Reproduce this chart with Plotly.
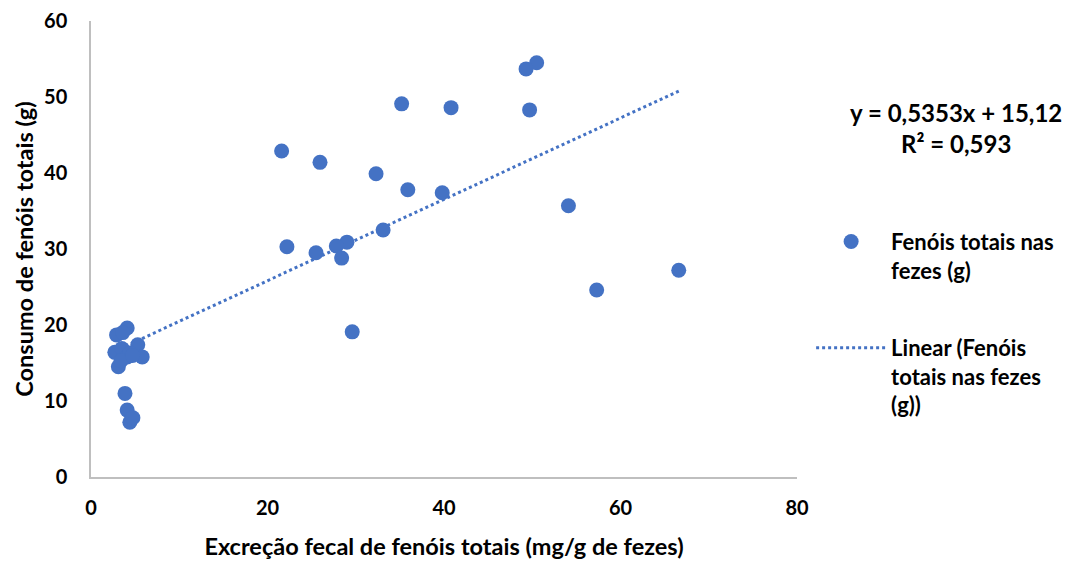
import plotly.graph_objects as go
import numpy as np

# Data
excrecao_x = [50.5, 49.3, 35.2, 40.8, 49.7, 21.6, 25.95, 32.3, 35.9, 39.8,
              54.1, 33.1, 29.0, 27.8, 22.2, 25.5, 28.4, 66.6, 57.3, 29.6,
              2.9, 4.1, 3.6,
              2.7, 3.5, 4.1, 5.3, 5.8, 4.4, 3.1, 3.4, 4.7,
              3.85, 4.1, 4.4, 4.75]
consumo_y = [54.5, 53.7, 49.1, 48.6, 48.3, 42.9, 41.4, 39.9, 37.8, 37.4,
             35.7, 32.5, 30.9, 30.4, 30.3, 29.5, 28.8, 27.2, 24.6, 19.1,
             18.7, 19.6, 19.0,
             16.4, 16.9, 15.8, 17.4, 15.8, 16.3, 14.5, 15.3, 16.0,
             11.0, 8.8, 7.2, 7.8]

slope = 0.5353
intercept = 15.12
r2 = 0.593

series_name = "Fenóis totais nas<br>fezes (g)"
trend_name = "Linear (Fenóis<br>totais nas fezes<br>(g))"
x_title = "Excreção fecal de fenóis totais (mg/g de fezes)"
y_title = "Consumo de fenóis totais (g)"

color = "#4472C4"
font_family = "Lato, Carlito, Calibri, sans-serif"

tx = np.array([min(excrecao_x), max(excrecao_x)])
ty = slope * tx + intercept

def fmt(v):
    return str(v).replace(".", ",")

fig = go.Figure()
fig.add_trace(go.Scatter(
    x=tx, y=ty, mode="lines", name=trend_name,
    line=dict(color=color, width=3, dash="dot"),
    legendgroup="b", legendrank=2))
fig.add_trace(go.Scatter(
    x=excrecao_x, y=consumo_y, mode="markers", name=series_name,
    marker=dict(color=color, size=15, line=dict(width=0)),
    legendgroup="a", legendrank=1))

# page body has an 8px default margin, so the figure is 8px smaller
fig.update_layout(
    width=1062, height=555,
    margin=dict(l=83, r=273, t=13, b=86, autoexpand=False),
    paper_bgcolor="white", plot_bgcolor="white",
    font=dict(family=font_family, size=20, color="black", weight="bold"),
    showlegend=True,
    legend=dict(x=1.02, y=0.562, xanchor="left", yanchor="top",
                traceorder="grouped", tracegroupgap=46, valign="top",
                font=dict(size=22, weight="bold"), itemwidth=70,
                bgcolor="rgba(0,0,0,0)"),
    xaxis=dict(range=[0, 80], dtick=20, showgrid=False, zeroline=False,
               showline=True, linecolor="#BFBFBF", linewidth=1.5,
               automargin=False,
               ticks="outside", ticklen=12, tickcolor="rgba(0,0,0,0)",
               title=dict(text=x_title, font=dict(size=23.5), standoff=21),
               tickfont=dict(size=20)),
    yaxis=dict(range=[0, 60], dtick=10, showgrid=False, zeroline=False,
               showline=True, linecolor="#BFBFBF", linewidth=1.5,
               automargin=False,
               ticks="outside", ticklen=18, tickcolor="rgba(0,0,0,0)",
               title=dict(text=y_title, font=dict(size=23.5), standoff=4),
               tickfont=dict(size=20)),
    annotations=[dict(
        xref="paper", yref="paper", x=1.225, y=0.766, xanchor="center",
        yanchor="middle", showarrow=False, align="center",
        text=f"y = {fmt(slope)}x + {fmt(intercept)}<br>R² = {fmt(r2)}",
        font=dict(size=24, weight="bold"))],
)

fig.write_html("out.html")
